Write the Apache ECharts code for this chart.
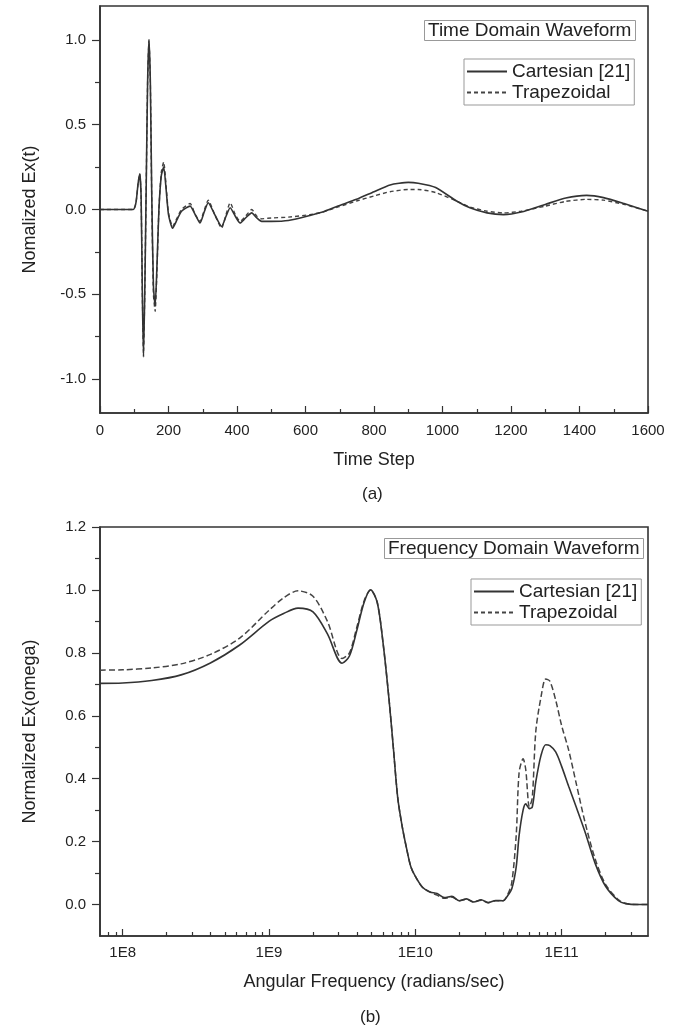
<!DOCTYPE html>
<html><head><meta charset="utf-8">
<script src="https://cdn.jsdelivr.net/npm/echarts@6/dist/echarts.min.js"></script>
<style>html,body{margin:0;padding:0;background:#fff}#c{width:682px;height:1029px}</style>
</head><body><div id="c"></div>
<script>
// ---- Panel (a): time domain ----
const timeSteps = [0,97,105,111,116,120,124,127,131,135,139,143,147,151,156,161,166,172,179,186,193,200,212,225,238,263,278,292,305,316,335,355,368,380,395,409,425,443,458,472,500,550,613,650,695,749,800,847,900,929,980,1041,1080,1130,1178,1230,1300,1360,1421,1470,1530,1600];
const cartesianTime = [0,0,0.04,0.15,0.21,0.08,-0.55,-0.87,-0.45,0.15,
  0.75,1.0,0.75,0.1,-0.45,-0.57,-0.35,0.0,0.2,0.25,
  0.12,-0.03,-0.11,-0.06,-0.01,0.02,-0.03,-0.08,-0.01,0.04,
  -0.03,-0.1,-0.04,0.01,-0.04,-0.08,-0.05,-0.02,-0.05,-0.07,
  -0.07,-0.065,-0.035,-0.015,0.02,0.06,0.105,0.145,0.16,0.155,
  0.13,0.05,0.01,-0.02,-0.03,-0.015,0.03,0.068,0.083,0.07,
  0.035,-0.01];
const trapezoidalTime = [0,0,0.04,0.15,0.21,0.08,-0.55,-0.85,-0.45,0.15,
  0.75,1.0,0.75,0.08,-0.5,-0.6,-0.38,0.0,0.22,0.28,
  0.14,-0.02,-0.1,-0.05,0.0,0.035,-0.03,-0.07,0.0,0.055,
  -0.03,-0.11,-0.03,0.04,-0.03,-0.07,-0.04,0.0,-0.04,-0.055,
  -0.05,-0.045,-0.03,-0.015,0.015,0.05,0.08,0.105,0.118,0.118,
  0.1,0.05,0.015,-0.01,-0.02,-0.01,0.02,0.048,0.06,0.055,
  0.03,-0.01];
const timeMajorTicks = [0,200,400,600,800,1000,1200,1400,1600];
const timeMinorTicks = [100,300,500,700,900,1100,1300,1500];
const timeYLabels = [-1,-0.5,0,0.5,1];
const timeYMinor = [-0.75,-0.25,0.25,0.75];

// ---- Panel (b): frequency domain ----
const freqs = [7.0e7,1.0e8,1.58e8,2.51e8,3.98e8,6.31e8,1.0e9,1.26e9,1.58e9,2.0e9,
  2.51e9,3.16e9,3.55e9,3.98e9,4.47e9,4.95e9,5.5e9,6.03e9,6.61e9,7.08e9,
  7.59e9,8.13e9,8.71e9,9.33e9,1.0e10,1.12e10,1.26e10,1.41e10,1.58e10,1.78e10,
  2.0e10,2.24e10,2.51e10,2.82e10,3.16e10,3.55e10,3.98e10,4.27e10,4.57e10,4.9e10,
  5.13e10,5.46e10,5.69e10,6.03e10,6.31e10,6.67e10,7.24e10,7.8e10,8.32e10,9.12e10,
  1.0e11,1.12e11,1.26e11,1.45e11,1.7e11,2.0e11,2.45e11,2.75e11,3.31e11,3.89e11];
const cartesianFreq = [0.703,0.704,0.712,0.73,0.768,0.825,0.9,0.925,0.942,0.93,
  0.86,0.767,0.79,0.87,0.96,1.0,0.96,0.83,0.655,0.5,
  0.34,0.25,0.18,0.12,0.09,0.055,0.04,0.035,0.022,0.026,
  0.012,0.018,0.008,0.015,0.006,0.013,0.012,0.027,0.05,0.12,
  0.22,0.3,0.32,0.305,0.31,0.39,0.474,0.508,0.505,0.485,
  0.44,0.375,0.31,0.23,0.13,0.058,0.012,0.003,0,0];
const trapezoidalFreq = [0.745,0.746,0.752,0.765,0.795,0.847,0.935,0.975,0.997,0.98,
  0.9,0.782,0.8,0.88,0.965,1.0,0.96,0.83,0.655,0.5,
  0.34,0.25,0.18,0.12,0.09,0.055,0.04,0.03,0.02,0.024,
  0.012,0.017,0.008,0.014,0.006,0.012,0.012,0.03,0.07,0.22,
  0.42,0.463,0.43,0.31,0.34,0.55,0.66,0.717,0.71,0.65,
  0.57,0.49,0.385,0.26,0.144,0.064,0.015,0.003,0,0];
const freqMajorTicks = [1e8,1e9,1e10,1e11];
const freqMinorTicks = [8e7,9e7,2e8,3e8,4e8,5e8,6e8,7e8,8e8,9e8,2e9,3e9,4e9,5e9,6e9,7e9,8e9,9e9,
  2e10,3e10,4e10,5e10,6e10,7e10,8e10,9e10,2e11,3e11];
const freqYLabels = [0,0.2,0.4,0.6,0.8,1.0,1.2];
const freqYMinor = [0.1,0.3,0.5,0.7,0.9,1.1];

const seriesNames = ['Cartesian [21]','Trapezoidal'];

const FONT = '"Liberation Sans", Arial, Helvetica, sans-serif';
const TXT = '#222';
const AX = '#333';
const pair = (xs, ys) => xs.map((x, i) => [x, ys[i]]);
const lbl = {fontSize: 15, color: TXT, fontFamily: FONT};
const nameStyle = {fontSize: 18, color: TXT, fontFamily: FONT};

function minorAxis(base, vals, len, inside) {
  return Object.assign({}, base, {
    name: '', axisLine: {show: false, onZero: false}, axisLabel: {show: false}, splitLine: {show: false},
    axisTick: {show: true, inside: inside, length: len, customValues: vals, lineStyle: {color: AX, width: 1.2}}
  });
}

const xTopBase = {type: 'value', gridIndex: 0, min: 0, max: 1600, position: 'bottom'};
const yTopBase = {type: 'value', gridIndex: 0, min: -1.2, max: 1.2, position: 'left'};
const xBotBase = {type: 'log', logBase: 10, gridIndex: 1, min: 7.0e7, max: 3.9e11, position: 'bottom'};
const yBotBase = {type: 'value', gridIndex: 1, min: -0.1, max: 1.2, position: 'left'};

const legendBase = {data: seriesNames, orient: 'vertical', padding: [3, 4, 3, 2], itemGap: 2,
  itemWidth: 40, itemHeight: 14, borderColor: '#999', borderWidth: 1, selectedMode: false,
  itemStyle: {opacity: 0, borderWidth: 0}, lineStyle: {opacity: 1},
  textStyle: {fontSize: 19, color: TXT, fontFamily: FONT}};

const chart = echarts.init(document.getElementById('c'), null, {renderer: 'canvas'});
chart.setOption({
  backgroundColor: '#fff',
  animation: false,
  textStyle: {fontFamily: FONT},
  grid: [
    {left: 100, top: 6, width: 548, height: 407, show: true, borderColor: AX, borderWidth: 1.6, backgroundColor: 'transparent', containLabel: false, outerBoundsMode: 'none'},
    {left: 100, top: 527, width: 548, height: 409, show: true, borderColor: AX, borderWidth: 1.6, backgroundColor: 'transparent', containLabel: false, outerBoundsMode: 'none'}
  ],
  title: [
    {text: 'Time Domain Waveform', left: 424, top: 20, padding: [1, 4, 1, 4], borderColor: '#999', borderWidth: 1,
     textStyle: {fontSize: 19, fontWeight: 'normal', color: TXT, fontFamily: FONT}},
    {text: 'Frequency Domain Waveform', left: 384, top: 538, padding: [1, 4, 1, 4], borderColor: '#999', borderWidth: 1,
     textStyle: {fontSize: 19, fontWeight: 'normal', color: TXT, fontFamily: FONT}}
  ],
  legend: [
    Object.assign({}, legendBase, {left: 464, top: 59}),
    Object.assign({}, legendBase, {left: 471, top: 579})
  ],
  xAxis: [
    Object.assign({}, xTopBase, {
      name: 'Time Step', nameLocation: 'middle', nameGap: 38, nameTextStyle: nameStyle,
      axisLine: {show: true, onZero: false, lineStyle: {color: AX, width: 1.6}},
      axisTick: {show: true, inside: true, length: 7, customValues: timeMajorTicks, lineStyle: {color: AX, width: 1.2}},
      axisLabel: Object.assign({margin: 10, customValues: timeMajorTicks, formatter: v => String(v)}, lbl),
      splitLine: {show: false}
    }),
    minorAxis(xTopBase, timeMinorTicks, 4, true),
    Object.assign({}, xBotBase, {
      name: 'Angular Frequency (radians/sec)', nameLocation: 'middle', nameGap: 37, nameTextStyle: nameStyle,
      axisLine: {show: true, onZero: false, lineStyle: {color: AX, width: 1.6}},
      axisTick: {show: true, inside: true, length: 7, customValues: freqMajorTicks, lineStyle: {color: AX, width: 1.2}},
      axisLabel: Object.assign({margin: 9, customValues: freqMajorTicks, formatter: v => '1E' + Math.round(Math.log10(v))}, lbl),
      splitLine: {show: false}
    }),
    minorAxis(xBotBase, freqMinorTicks, 4, true)
  ],
  yAxis: [
    Object.assign({}, yTopBase, {
      name: 'Nomalized Ex(t)', nameLocation: 'middle', nameGap: 61, nameRotate: 90, nameTextStyle: nameStyle,
      axisLine: {show: true, onZero: false, lineStyle: {color: AX, width: 1.6}},
      axisTick: {show: true, inside: false, length: 8, customValues: timeYLabels, lineStyle: {color: AX, width: 1.2}},
      axisLabel: Object.assign({margin: 14, customValues: timeYLabels, formatter: v => v.toFixed(1)}, lbl),
      splitLine: {show: false}
    }),
    minorAxis(yTopBase, timeYMinor, 5, false),
    Object.assign({}, yBotBase, {
      name: 'Normalized Ex(omega)', nameLocation: 'middle', nameGap: 61, nameRotate: 90, nameTextStyle: nameStyle,
      axisLine: {show: true, onZero: false, lineStyle: {color: AX, width: 1.6}},
      axisTick: {show: true, inside: false, length: 8, customValues: freqYLabels, lineStyle: {color: AX, width: 1.2}},
      axisLabel: Object.assign({margin: 14, customValues: freqYLabels, formatter: v => v.toFixed(1)}, lbl),
      splitLine: {show: false}
    }),
    minorAxis(yBotBase, freqYMinor, 5, false)
  ],
  graphic: [
    {type: 'text', left: 362, top: 486, style: {text: '(a)', fontSize: 17, fill: TXT, font: '17px ' + FONT}},
    {type: 'text', left: 360, top: 1009, style: {text: '(b)', fontSize: 17, fill: TXT, font: '17px ' + FONT}}
  ],
  series: [
    {type: 'line', name: seriesNames[0], xAxisIndex: 0, yAxisIndex: 0, data: pair(timeSteps, cartesianTime),
     symbol: 'none', showSymbol: false, smooth: 0.2, lineStyle: {color: '#333', width: 1.6}, itemStyle: {color: '#333'}, z: 3},
    {type: 'line', name: seriesNames[1], xAxisIndex: 0, yAxisIndex: 0, data: pair(timeSteps, trapezoidalTime),
     symbol: 'none', showSymbol: false, smooth: 0.2, lineStyle: {color: '#444', width: 1.4, type: [4, 3]}, itemStyle: {color: '#444'}, z: 2},
    {type: 'line', name: seriesNames[0], xAxisIndex: 2, yAxisIndex: 2, data: pair(freqs, cartesianFreq),
     symbol: 'none', showSymbol: false, smooth: 0.3, lineStyle: {color: '#333', width: 1.6}, itemStyle: {color: '#333'}, z: 3},
    {type: 'line', name: seriesNames[1], xAxisIndex: 2, yAxisIndex: 2, data: pair(freqs, trapezoidalFreq),
     symbol: 'none', showSymbol: false, smooth: 0.3, lineStyle: {color: '#444', width: 1.5, type: [6, 3]}, itemStyle: {color: '#444'}, z: 2}
  ]
});
</script></body></html>
